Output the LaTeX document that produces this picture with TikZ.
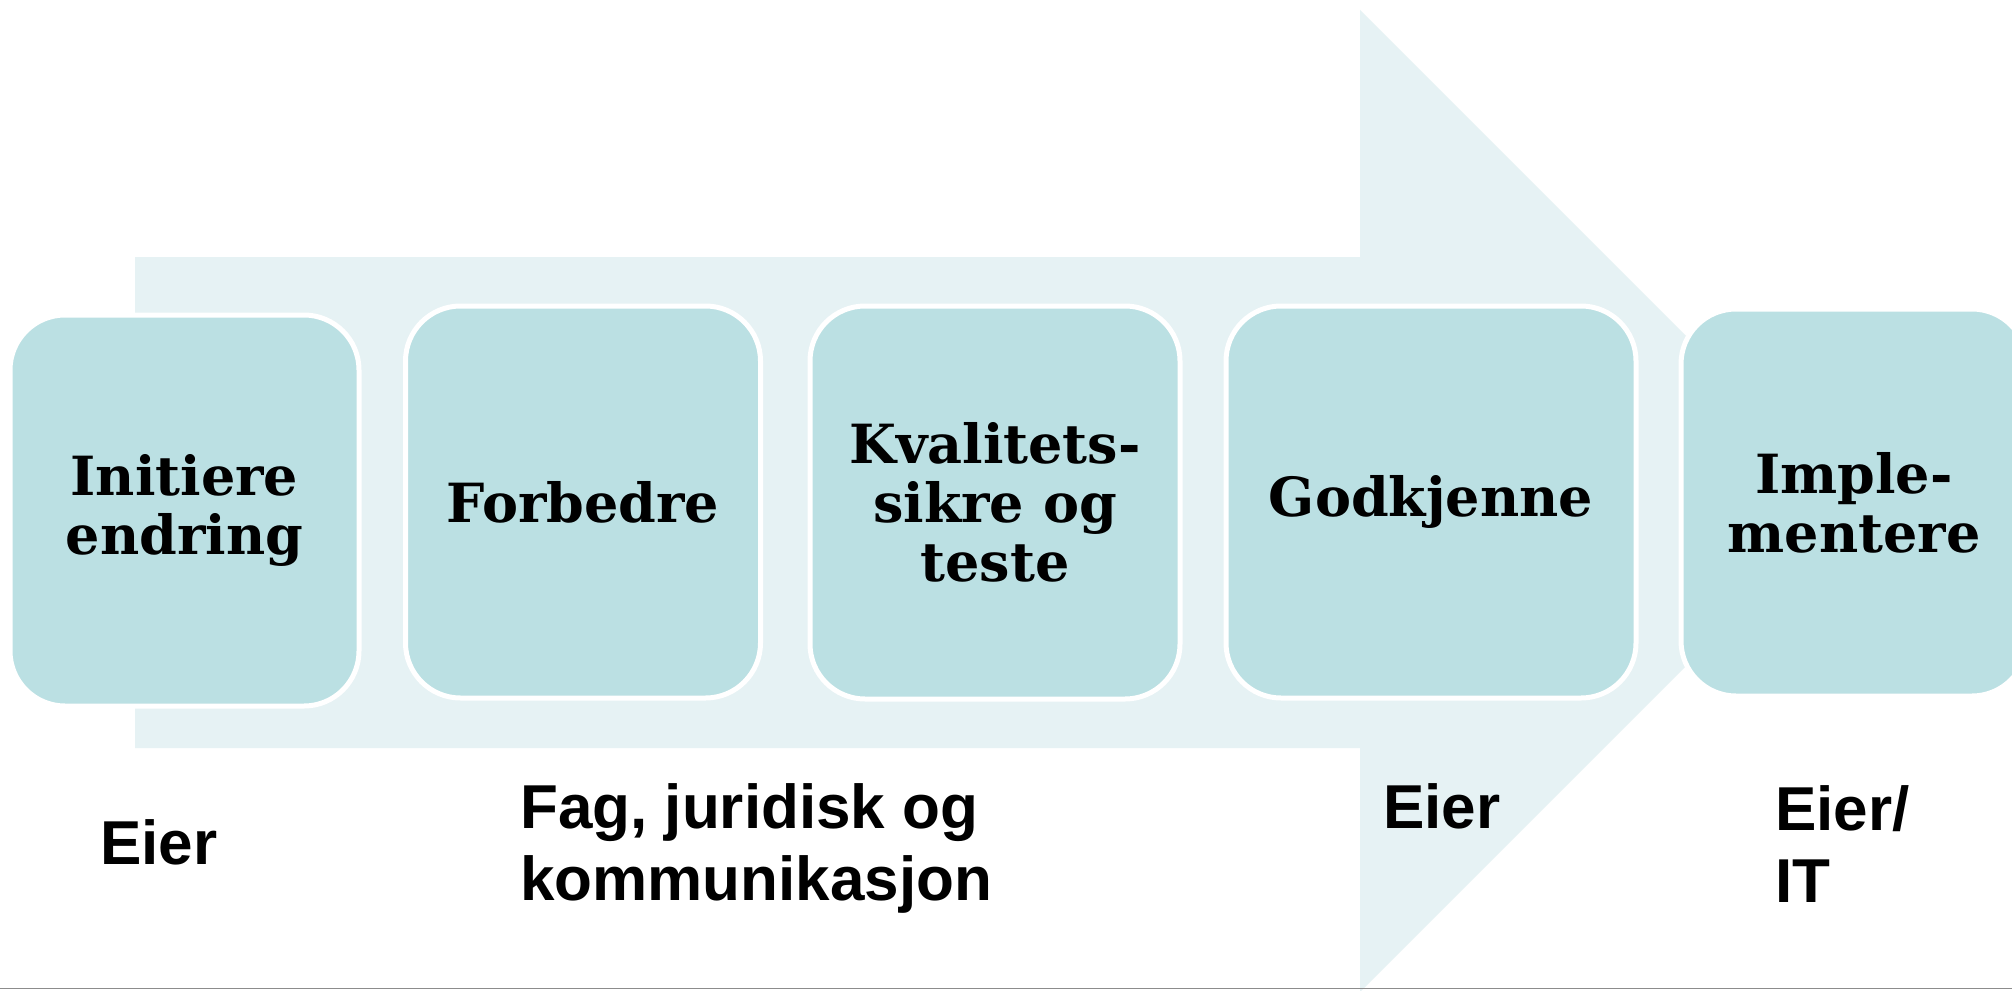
\documentclass[tikz,border=0pt]{standalone}
\usepackage{fontspec}
\setmainfont{DejaVu Serif}
\newfontfamily\labelfont{Liberation Sans}
\definecolor{arrowfill}{HTML}{E6F2F4}
\definecolor{boxfill}{HTML}{BBE0E3}
\definecolor{rulegray}{HTML}{8C8C8C}
\begin{document}
\begin{tikzpicture}[x=1pt,y=-1pt,
  stepbox/.style={rectangle, rounded corners=55pt, fill=boxfill, draw=white, line width=5pt,
    align=center, font=\fontsize{54}{59}\selectfont\bfseries, inner sep=0pt},
  rolelabel/.style={anchor=base west, align=left, inner sep=0pt,
    font=\labelfont\fontsize{62}{72}\selectfont\bfseries}]
\useasboundingbox (0,0) rectangle (2012,990);
\clip (0,0) rectangle (2012,990);
\fill[white] (0,0) rectangle (2012,990);
% big background arrow
\fill[arrowfill] (135,257) -- (1360,257) -- (1360,10) -- (1851,501) -- (1360,992)
  -- (1360,748) -- (135,748) -- cycle;
% bottom rule
\coordinate (ruleL) at (0,988.5);
\coordinate (ruleR) at (2012,988.5);
\draw[rulegray, line width=1.8pt] (ruleL) -- (ruleR);
% steps
\node[stepbox, minimum width=349pt, minimum height=391pt] (s1) at (184.5,510.5) {Initiere\\endring};
\node[stepbox, minimum width=355pt, minimum height=392pt] (s2) at (583,502) {Forbedre};
\node[stepbox, minimum width=370pt, minimum height=393pt] (s3) at (995,502.5) {Kvalitets-\\sikre og\\teste};
\node[stepbox, minimum width=410pt, minimum height=392pt] (s4) at (1431,502) {Godkjenne};
\node[stepbox, minimum width=346pt, minimum height=387pt] (s5) at (1854,502.5) {Imple-\\mentere};
% role labels (base anchor = baseline of last line)
\node[rolelabel] (r1) at (100,864) {Eier};
\node[rolelabel] (r2) at (520,900) {Fag, juridisk og\\kommunikasjon};
\node[rolelabel] (r3) at (1383,828) {Eier};
\node[rolelabel] (r4) at (1775,902) {Eier/\\IT};
\end{tikzpicture}
\end{document}
